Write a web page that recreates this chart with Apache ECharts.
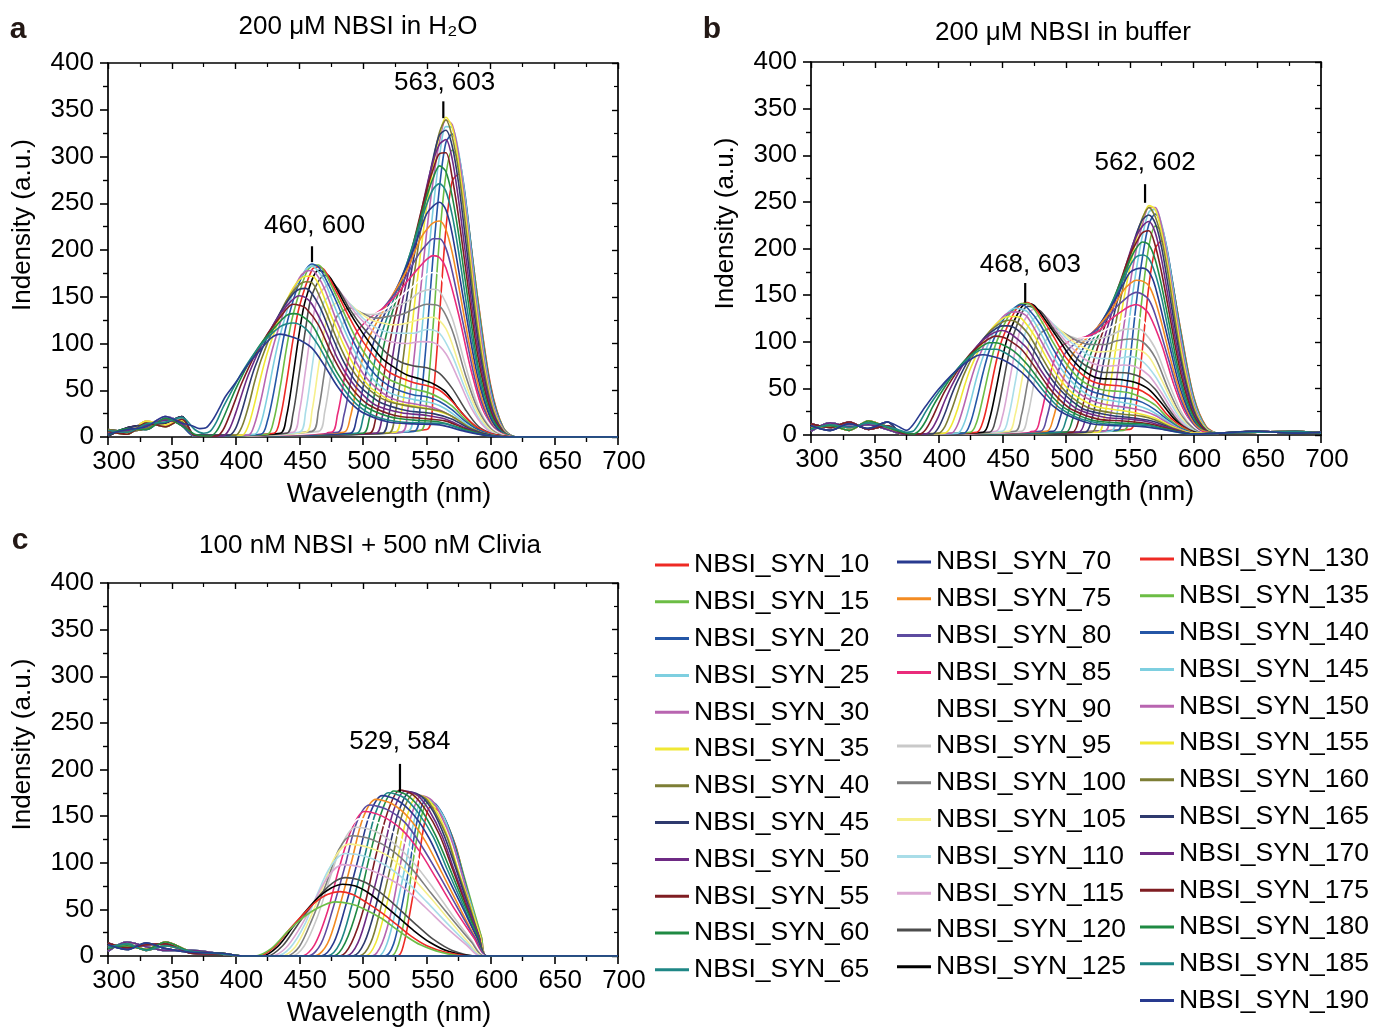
<!DOCTYPE html>
<html><head><meta charset="utf-8">
<script src="https://cdn.jsdelivr.net/npm/echarts@6/dist/echarts.min.js"></script>
<style>html,body{margin:0;padding:0;background:#fff}#c{width:1373px;height:1028px}</style>
</head><body><div id="c"></div>
<script>
const seriesNames = ['NBSI_SYN_10','NBSI_SYN_15','NBSI_SYN_20','NBSI_SYN_25','NBSI_SYN_30','NBSI_SYN_35','NBSI_SYN_40','NBSI_SYN_45','NBSI_SYN_50','NBSI_SYN_55','NBSI_SYN_60','NBSI_SYN_65','NBSI_SYN_70','NBSI_SYN_75','NBSI_SYN_80','NBSI_SYN_85','NBSI_SYN_90','NBSI_SYN_95','NBSI_SYN_100','NBSI_SYN_105','NBSI_SYN_110','NBSI_SYN_115','NBSI_SYN_120','NBSI_SYN_125','NBSI_SYN_130','NBSI_SYN_135','NBSI_SYN_140','NBSI_SYN_145','NBSI_SYN_150','NBSI_SYN_155','NBSI_SYN_160','NBSI_SYN_165','NBSI_SYN_170','NBSI_SYN_175','NBSI_SYN_180','NBSI_SYN_185','NBSI_SYN_190'];

const panelTitles = ['200 μM NBSI in H₂O', '200 μM NBSI in buffer', '100 nM NBSI + 500 nM Clivia'];
const panelLetters = ['a', 'b', 'c'];

// Panel a: 200 uM NBSI in H2O  [wavelength (nm), intensity]
const panelA = [
[[300,4],[315,7],[330,12],[345,18],[358,14],[368,1],[550,8],[555,45],[560,130],[565,222],[570,274],[575,281],[580,252],[590,148],[600,56],[610,10],[620,0],[700,0]],
[[300,6],[315,3],[330,15],[345,11],[358,19],[368,1],[545,7],[550,40],[555,119],[560,212],[565,280],[570,307],[575,296],[580,257],[590,147],[600,54],[610,10],[620,0],[700,0]],
[[300,2],[315,9],[330,8],[345,20],[358,12],[368,1],[540,6],[545,36],[550,107],[555,194],[560,267],[565,315],[570,324],[575,302],[580,260],[590,142],[600,52],[610,9],[620,0],[700,0]],
[[300,7],[315,5],[330,14],[345,16],[358,21],[368,1],[535,6],[540,32],[545,95],[550,174],[555,244],[560,300],[565,332],[570,331],[575,305],[580,257],[590,138],[600,48],[610,8],[620,0],[700,0]],
[[300,3],[315,8],[330,11],[345,22],[358,15],[368,1],[530,5],[535,28],[540,84],[545,155],[550,220],[555,274],[560,316],[565,339],[570,334],[575,302],[580,250],[590,132],[600,45],[610,8],[620,0],[700,0]],
[[300,5],[315,4],[330,17],[345,13],[358,18],[368,1],[525,5],[530,26],[535,75],[540,137],[545,195],[550,247],[555,289],[560,323],[565,342],[570,331],[575,293],[580,242],[590,123],[600,41],[610,7],[620,0],[700,0]],
[[300,8],[315,6],[330,9],[345,19],[358,16],[368,1],[520,4],[525,23],[530,68],[535,122],[540,172],[545,219],[550,260],[555,295],[560,326],[565,339],[570,321],[575,284],[580,231],[590,114],[600,38],[610,6],[620,0],[700,0]],
[[300,1],[315,10],[330,13],[345,15],[358,22],[368,1],[515,4],[520,22],[525,62],[530,110],[535,154],[545,231],[550,265],[555,298],[560,323],[565,328],[570,311],[575,271],[580,216],[590,105],[600,34],[610,6],[620,0],[700,0]],
[[300,4],[315,7],[330,12],[345,18],[358,14],[368,1],[510,4],[515,21],[520,58],[525,101],[530,139],[540,204],[550,268],[555,295],[560,313],[565,318],[570,297],[575,253],[580,200],[590,96],[600,31],[610,5],[620,0],[700,0]],
[[300,6],[315,3],[330,15],[345,11],[358,19],[368,1],[505,4],[510,20],[515,55],[520,94],[525,128],[535,182],[545,238],[550,265],[555,286],[560,303],[565,304],[570,277],[575,235],[580,185],[590,87],[600,28],[610,5],[620,0],[700,0]],
[[300,2],[315,9],[330,8],[345,20],[358,12],[368,1],[500,4],[505,20],[510,53],[515,89],[520,119],[530,165],[540,210],[550,257],[555,277],[560,290],[565,284],[570,257],[575,217],[580,169],[590,78],[600,25],[610,4],[620,0],[700,0]],
[[300,7],[315,5],[330,14],[345,16],[358,21],[368,1],[495,4],[500,20],[505,52],[510,86],[515,112],[525,151],[535,188],[545,228],[550,249],[555,265],[560,271],[565,263],[570,237],[575,198],[585,109],[595,42],[605,10],[620,0],[700,0]],
[[300,3],[315,8],[330,11],[345,22],[358,15],[368,1],[490,4],[495,20],[500,53],[505,85],[510,108],[520,141],[530,170],[540,202],[545,221],[550,239],[555,247],[560,251],[565,243],[570,217],[580,138],[590,64],[600,20],[610,3],[620,0],[700,0]],
[[300,5],[315,4],[330,17],[345,13],[358,18],[368,1],[485,5],[490,21],[495,54],[500,86],[505,107],[515,133],[525,156],[535,180],[545,212],[550,222],[555,229],[560,231],[565,222],[570,197],[575,162],[585,88],[595,33],[605,7],[620,0],[700,0]],
[[300,8],[315,6],[330,9],[345,19],[358,16],[368,1],[480,5],[485,23],[490,57],[495,88],[500,108],[510,128],[520,145],[530,163],[540,187],[545,198],[550,206],[555,212],[560,212],[565,202],[570,177],[580,112],[590,50],[600,15],[610,2],[620,0],[700,0]],
[[300,1],[315,10],[330,13],[345,15],[358,22],[368,1],[475,5],[480,24],[485,60],[490,92],[495,112],[505,127],[515,137],[525,150],[535,167],[545,183],[550,190],[555,194],[560,192],[565,181],[575,131],[585,70],[595,25],[605,6],[620,0],[700,0]],
[[300,4],[315,7],[330,12],[345,18],[358,14],[368,1],[470,5],[475,25],[480,64],[485,98],[490,116],[500,128],[510,132],[520,139],[530,151],[540,162],[550,174],[555,176],[560,173],[570,144],[580,88],[590,38],[600,12],[610,2],[620,0],[700,0]],
[[300,6],[315,3],[330,15],[345,11],[358,19],[368,1],[465,6],[470,27],[475,68],[480,103],[485,123],[495,132],[505,131],[515,132],[525,139],[535,145],[545,155],[555,158],[560,156],[570,127],[580,78],[590,34],[600,10],[610,2],[620,0],[700,0]],
[[300,2],[315,9],[330,8],[345,20],[358,12],[368,1],[460,6],[465,28],[470,71],[475,110],[480,130],[490,138],[500,132],[510,127],[520,129],[530,131],[540,137],[550,142],[560,140],[570,114],[580,68],[590,30],[600,9],[610,1],[620,0],[700,0]],
[[300,7],[315,5],[330,14],[345,16],[358,21],[368,1],[455,5],[460,28],[465,74],[470,116],[475,139],[485,146],[495,136],[505,126],[515,122],[525,120],[535,122],[545,126],[555,128],[565,116],[575,79],[585,41],[595,15],[605,3],[620,0],[700,0]],
[[300,3],[315,8],[330,11],[345,22],[358,15],[368,1],[450,5],[455,27],[460,74],[465,120],[470,146],[480,154],[490,142],[500,127],[510,117],[520,112],[530,111],[540,111],[550,115],[560,111],[570,87],[580,52],[590,22],[600,6],[610,1],[620,0],[700,0]],
[[300,5],[315,4],[330,17],[345,13],[358,18],[368,1],[445,5],[450,26],[455,72],[460,120],[465,151],[475,164],[485,150],[495,131],[505,117],[515,105],[525,101],[535,100],[545,102],[555,101],[565,89],[575,61],[585,31],[595,11],[605,2],[620,0],[700,0]],
[[300,8],[315,6],[330,9],[345,19],[358,16],[368,1],[440,4],[445,24],[450,68],[455,116],[460,152],[470,173],[480,159],[490,136],[500,117],[510,102],[520,88],[530,80],[540,76],[550,74],[560,68],[570,52],[580,30],[590,12],[600,4],[610,1],[620,0],[700,0]],
[[300,1],[315,10],[330,13],[345,15],[358,22],[368,1],[435,4],[440,22],[445,64],[450,111],[455,147],[465,178],[470,176],[475,169],[485,144],[495,121],[505,101],[515,84],[525,74],[535,66],[545,62],[555,57],[565,48],[575,30],[585,15],[595,5],[610,1],[620,0],[700,0]],
[[300,4],[315,7],[330,12],[345,18],[358,14],[368,1],[430,4],[435,20],[440,58],[445,103],[450,139],[460,179],[465,182],[470,178],[480,153],[490,126],[500,102],[510,84],[520,70],[530,63],[540,58],[550,55],[560,50],[570,38],[580,22],[590,10],[605,2],[620,0],[700,0]],
[[300,6],[315,3],[330,15],[345,11],[358,19],[368,1],[425,3],[430,18],[435,53],[440,95],[445,130],[455,174],[460,183],[465,184],[470,176],[480,148],[490,118],[500,92],[510,74],[520,62],[530,56],[540,51],[550,48],[560,42],[570,33],[580,19],[590,8],[605,1],[620,0],[700,0]],
[[300,2],[315,9],[330,8],[345,20],[358,12],[368,1],[420,3],[425,17],[430,48],[435,86],[440,120],[450,165],[460,185],[465,182],[470,171],[480,142],[490,109],[500,84],[510,66],[520,55],[530,49],[540,45],[550,43],[560,38],[570,29],[580,17],[590,8],[605,1],[620,0],[700,0]],
[[300,7],[315,5],[330,14],[345,16],[358,21],[368,2],[415,3],[420,15],[425,44],[430,79],[435,109],[445,154],[455,179],[460,183],[465,177],[470,166],[480,132],[490,101],[500,76],[510,59],[520,48],[530,43],[540,40],[555,36],[565,30],[575,20],[590,6],[605,1],[620,0],[700,0]],
[[300,3],[315,8],[330,11],[345,22],[358,15],[368,2],[410,2],[415,14],[420,40],[425,72],[430,99],[440,142],[450,170],[455,177],[460,178],[465,171],[470,158],[480,122],[490,92],[500,68],[510,53],[520,43],[530,38],[550,33],[560,29],[570,22],[585,9],[600,2],[620,0],[700,0]],
[[300,5],[315,4],[330,17],[345,13],[358,18],[368,2],[405,2],[410,12],[415,36],[420,65],[425,90],[435,129],[445,159],[455,172],[460,172],[465,164],[475,130],[485,98],[495,72],[505,54],[515,44],[525,37],[545,32],[560,27],[570,22],[585,9],[600,2],[620,0],[700,0]],
[[300,8],[315,6],[330,9],[345,19],[358,16],[368,2],[400,2],[405,11],[410,32],[415,59],[420,82],[430,117],[440,146],[450,163],[455,166],[460,165],[470,137],[480,103],[490,75],[500,57],[510,45],[520,38],[540,32],[560,28],[570,22],[585,9],[600,2],[620,0],[700,0]],
[[300,1],[315,10],[330,13],[345,15],[358,22],[368,2],[395,2],[400,9],[405,28],[410,52],[415,74],[425,107],[435,133],[445,153],[450,158],[455,159],[465,142],[475,110],[485,80],[495,58],[505,45],[515,36],[535,28],[555,25],[570,19],[585,8],[600,2],[620,0],[700,0]],
[[300,4],[315,7],[330,12],[345,18],[358,14],[368,2],[390,1],[395,8],[400,25],[405,46],[410,66],[420,97],[430,121],[440,140],[450,151],[455,149],[460,142],[470,116],[480,84],[490,61],[500,45],[510,34],[530,26],[550,23],[565,19],[580,10],[600,1],[620,0],[700,0]],
[[300,6],[315,3],[330,15],[345,11],[358,19],[368,2],[385,1],[390,7],[395,22],[400,40],[405,58],[415,87],[425,110],[435,128],[445,142],[450,141],[455,138],[465,120],[475,90],[485,65],[495,46],[505,34],[525,23],[545,20],[565,17],[580,9],[600,1],[620,0],[700,0]],
[[300,2],[315,9],[330,8],[345,20],[358,12],[368,3],[380,1],[385,6],[390,19],[395,35],[400,51],[410,78],[420,100],[430,116],[440,130],[445,132],[450,131],[460,120],[470,94],[480,68],[490,48],[500,34],[520,22],[540,18],[560,16],[580,8],[600,1],[620,0],[700,0]],
[[300,7],[315,5],[330,14],[345,16],[358,21],[368,8],[375,4],[380,6],[385,16],[390,31],[395,44],[405,69],[415,90],[425,106],[435,118],[440,121],[445,122],[455,116],[465,98],[475,73],[485,51],[495,35],[510,22],[530,16],[550,15],[565,14],[580,7],[600,1],[620,0],[700,0]],
[[300,3],[315,8],[330,11],[345,22],[358,15],[366,12],[372,9],[377,10],[382,18],[387,30],[392,43],[400,58],[410,78],[420,94],[428,106],[435,110],[442,108],[450,104],[460,95],[470,76],[480,54],[490,37],[500,26],[520,16],[540,14],[560,13],[580,6],[600,1],[620,0],[700,0]]
];

// Panel b: 200 uM NBSI in buffer
const panelB = [
[[300,6],[315,11],[330,8],[345,13],[360,9],[372,1],[550,6],[555,32],[560,93],[565,160],[570,200],[575,208],[580,188],[590,112],[600,42],[610,9],[620,2],[650,4],[680,2],[700,3]],
[[300,10],[315,5],[330,12],[345,7],[360,14],[372,1],[545,5],[550,29],[555,86],[560,151],[565,202],[570,224],[575,219],[580,192],[590,111],[600,41],[610,8],[620,2],[650,3],[680,4],[700,2]],
[[300,4],[315,13],[330,9],[345,11],[360,6],[372,1],[540,5],[545,26],[550,78],[555,140],[560,191],[565,226],[570,237],[575,224],[580,194],[590,108],[600,39],[610,7],[620,2],[650,4],[680,2],[700,3]],
[[300,12],[315,8],[330,14],[345,6],[360,10],[372,1],[535,4],[540,23],[545,70],[550,127],[555,176],[560,214],[565,239],[570,242],[575,226],[580,192],[590,104],[600,37],[610,7],[620,2],[650,3],[680,4],[700,2]],
[[300,7],[315,10],[330,5],[345,15],[360,8],[372,1],[530,4],[535,21],[540,62],[545,113],[550,160],[555,198],[560,226],[565,244],[570,244],[575,224],[580,186],[590,100],[600,34],[610,6],[620,2],[650,4],[680,2],[700,3]],
[[300,6],[315,11],[330,8],[345,13],[360,9],[372,1],[525,3],[530,19],[535,56],[540,101],[545,143],[550,179],[555,209],[560,231],[565,246],[570,242],[575,217],[580,180],[590,93],[600,31],[610,6],[620,2],[650,3],[680,4],[700,2]],
[[300,10],[315,5],[330,12],[345,7],[360,14],[372,1],[520,3],[525,17],[530,50],[535,90],[540,127],[545,160],[550,189],[555,213],[560,233],[565,244],[570,234],[575,210],[580,173],[590,86],[600,29],[610,5],[620,2],[650,4],[680,2],[700,3]],
[[300,4],[315,13],[330,9],[345,11],[360,6],[372,1],[515,3],[520,16],[525,46],[530,82],[535,114],[545,169],[550,193],[555,215],[560,231],[565,236],[570,227],[575,201],[580,161],[590,80],[600,26],[610,5],[620,2],[650,3],[680,4],[700,2]],
[[300,12],[315,8],[330,14],[345,6],[360,10],[372,1],[510,3],[515,16],[520,44],[525,75],[530,103],[540,150],[550,195],[555,213],[560,224],[565,229],[570,217],[575,188],[580,149],[590,73],[600,23],[610,4],[620,2],[650,4],[680,2],[700,3]],
[[300,7],[315,10],[330,5],[345,15],[360,8],[372,1],[505,3],[510,16],[515,42],[520,71],[525,95],[535,135],[545,174],[550,193],[555,206],[560,217],[565,219],[570,203],[575,174],[580,138],[590,66],[600,21],[610,4],[620,2],[650,3],[680,4],[700,2]],
[[300,6],[315,11],[330,8],[345,13],[360,9],[372,1],[500,3],[505,16],[510,42],[515,68],[520,89],[530,122],[540,155],[550,187],[555,200],[560,207],[565,204],[570,188],[575,160],[580,126],[590,59],[600,19],[610,3],[620,2],[650,4],[680,2],[700,3]],
[[300,10],[315,5],[330,12],[345,7],[360,14],[372,1],[495,3],[500,16],[505,42],[510,68],[515,86],[525,113],[535,139],[545,167],[550,181],[555,191],[560,193],[565,189],[570,173],[575,147],[585,82],[595,32],[605,7],[620,2],[650,3],[680,4],[700,2]],
[[300,4],[315,13],[330,9],[345,11],[360,6],[372,1],[490,4],[495,17],[500,43],[505,68],[510,85],[520,106],[530,126],[540,149],[545,162],[550,174],[555,178],[560,179],[565,175],[570,159],[580,103],[590,48],[600,15],[610,2],[620,2],[650,4],[680,2],[700,3]],
[[300,12],[315,8],[330,14],[345,6],[360,10],[372,1],[485,4],[490,18],[495,45],[500,70],[505,86],[515,102],[525,116],[535,133],[545,155],[550,162],[555,166],[560,165],[565,160],[570,144],[575,120],[585,66],[595,25],[605,6],[620,2],[650,3],[680,4],[700,2]],
[[300,7],[315,10],[330,5],[345,15],[360,8],[372,1],[480,4],[485,19],[490,48],[495,73],[500,89],[510,101],[520,109],[530,121],[540,138],[545,144],[550,150],[555,153],[560,151],[565,145],[570,129],[580,83],[590,38],[600,11],[610,2],[620,2],[650,4],[680,2],[700,3]],
[[300,6],[315,11],[330,8],[345,13],[360,9],[372,1],[475,4],[480,20],[485,50],[490,77],[495,93],[505,102],[515,105],[525,111],[535,124],[545,134],[550,138],[555,140],[560,137],[565,130],[575,97],[585,52],[595,19],[605,4],[620,2],[650,3],[680,4],[700,2]],
[[300,10],[315,5],[330,12],[345,7],[360,14],[372,1],[470,4],[475,21],[480,53],[485,82],[490,98],[500,105],[510,104],[520,105],[530,112],[540,119],[550,127],[555,127],[560,123],[570,105],[580,66],[590,29],[600,9],[610,1],[620,2],[650,4],[680,2],[700,3]],
[[300,4],[315,13],[330,9],[345,11],[360,6],[372,1],[465,4],[470,21],[475,56],[480,86],[485,103],[495,110],[505,105],[515,101],[525,103],[535,107],[545,113],[555,114],[560,112],[570,93],[580,58],[590,26],[600,7],[610,1],[620,2],[650,3],[680,4],[700,2]],
[[300,12],[315,8],[330,14],[345,6],[360,10],[372,1],[460,4],[465,21],[470,57],[475,90],[480,109],[490,115],[500,108],[510,100],[520,97],[530,97],[540,101],[550,103],[560,100],[570,83],[580,50],[590,22],[600,7],[610,1],[620,2],[650,4],[680,2],[700,3]],
[[300,7],[315,10],[330,5],[345,15],[360,8],[372,1],[455,4],[460,21],[465,56],[470,92],[475,114],[485,122],[495,113],[505,101],[515,93],[525,89],[535,90],[545,92],[555,92],[565,84],[575,59],[585,31],[595,11],[605,2],[620,2],[650,3],[680,4],[700,2]],
[[300,6],[315,11],[330,8],[345,13],[360,9],[372,1],[450,4],[455,20],[460,55],[465,92],[470,116],[480,129],[490,119],[500,104],[510,93],[520,84],[530,82],[540,82],[550,84],[560,79],[570,63],[580,39],[590,17],[600,5],[610,1],[620,2],[650,4],[680,2],[700,3]],
[[300,10],[315,5],[330,12],[345,7],[360,14],[372,1],[445,4],[450,19],[455,53],[460,89],[465,116],[475,135],[485,126],[495,108],[505,93],[515,81],[525,75],[535,74],[545,75],[555,73],[565,64],[575,45],[585,23],[595,8],[605,2],[620,2],[650,3],[680,4],[700,2]],
[[300,4],[315,13],[330,9],[345,11],[360,6],[372,1],[440,3],[445,18],[450,50],[455,86],[460,112],[470,138],[480,133],[490,114],[500,96],[510,80],[520,71],[530,67],[540,67],[550,66],[560,61],[570,49],[580,29],[590,12],[600,4],[610,1],[620,2],[650,4],[680,2],[700,3]],
[[300,12],[315,8],[330,14],[345,6],[360,10],[372,1],[435,3],[440,17],[445,48],[450,82],[455,108],[465,137],[470,141],[475,139],[485,121],[495,101],[505,81],[515,68],[525,61],[535,60],[545,59],[555,56],[565,49],[575,34],[585,17],[595,6],[610,1],[620,2],[650,3],[680,4],[700,2]],
[[300,7],[315,10],[330,5],[345,15],[360,8],[372,1],[430,3],[435,15],[440,44],[445,77],[450,103],[460,133],[465,140],[470,142],[480,128],[490,106],[500,83],[510,68],[520,58],[530,54],[540,53],[550,51],[560,47],[570,37],[580,21],[590,10],[605,1],[620,2],[650,4],[680,2],[700,3]],
[[300,6],[315,11],[330,8],[345,13],[360,9],[372,1],[425,3],[430,14],[435,41],[440,72],[445,98],[455,128],[460,136],[465,141],[470,141],[480,124],[490,99],[500,77],[510,61],[520,52],[530,48],[540,47],[550,45],[560,40],[570,32],[580,18],[590,8],[605,1],[620,2],[650,3],[680,4],[700,2]],
[[300,10],[315,5],[330,12],[345,7],[360,14],[372,1],[420,2],[425,13],[430,38],[435,67],[440,91],[450,122],[460,137],[465,140],[470,136],[480,118],[490,92],[500,70],[510,55],[520,47],[530,43],[540,40],[550,39],[560,35],[570,27],[580,16],[590,7],[605,1],[620,2],[650,4],[680,2],[700,3]],
[[300,4],[315,13],[330,9],[345,11],[360,6],[372,1],[415,2],[420,12],[425,35],[430,62],[435,84],[445,115],[455,132],[460,136],[465,135],[470,132],[480,110],[490,84],[500,64],[510,50],[520,41],[530,38],[540,36],[555,32],[565,27],[575,19],[590,6],[605,1],[620,2],[650,3],[680,4],[700,2]],
[[300,12],[315,8],[330,14],[345,6],[360,10],[372,1],[410,2],[415,11],[420,32],[425,57],[430,78],[440,108],[450,126],[455,131],[460,132],[465,131],[470,126],[480,102],[490,77],[500,57],[510,45],[520,37],[530,33],[550,29],[560,26],[570,21],[585,9],[600,2],[620,2],[650,4],[680,2],[700,3]],
[[300,7],[315,10],[330,5],[345,15],[360,8],[372,1],[405,2],[410,10],[415,28],[420,51],[425,71],[435,100],[445,119],[455,127],[460,127],[465,125],[475,107],[485,82],[495,60],[505,45],[515,36],[525,30],[545,26],[560,22],[570,18],[585,8],[600,2],[620,2],[650,3],[680,4],[700,2]],
[[300,6],[315,11],[330,8],[345,13],[360,9],[372,1],[400,2],[405,9],[410,26],[415,46],[420,65],[430,92],[440,111],[450,121],[455,123],[460,122],[470,109],[480,86],[490,63],[500,46],[510,35],[520,28],[540,23],[560,20],[570,16],[585,7],[600,1],[620,2],[650,4],[680,2],[700,3]],
[[300,10],[315,5],[330,12],[345,7],[360,14],[372,1],[395,1],[400,8],[405,23],[410,42],[415,58],[425,84],[435,103],[445,114],[450,117],[455,117],[465,109],[475,90],[485,67],[495,49],[505,36],[515,27],[535,21],[555,18],[570,14],[585,6],[600,1],[620,2],[650,3],[680,4],[700,2]],
[[300,4],[315,13],[330,9],[345,11],[360,6],[372,1],[390,1],[395,7],[400,20],[405,37],[410,52],[420,77],[430,95],[440,107],[450,112],[455,110],[460,105],[470,92],[480,70],[490,51],[500,37],[510,27],[530,19],[550,17],[565,14],[580,8],[600,1],[620,2],[650,4],[680,2],[700,3]],
[[300,12],[315,8],[330,14],[345,6],[360,10],[372,2],[385,1],[390,6],[395,18],[400,33],[405,47],[415,69],[425,87],[435,99],[445,106],[450,105],[455,102],[465,92],[475,74],[485,54],[495,38],[505,27],[525,17],[545,15],[565,12],[580,7],[600,1],[620,2],[650,3],[680,4],[700,2]],
[[300,7],[315,10],[330,5],[345,15],[360,8],[372,3],[380,1],[385,5],[390,15],[395,29],[400,41],[410,62],[420,79],[430,91],[440,99],[445,99],[450,97],[460,89],[470,75],[480,57],[490,40],[500,28],[520,16],[540,13],[560,12],[580,6],[600,1],[620,2],[650,4],[680,2],[700,3]],
[[300,6],[315,11],[330,8],[345,13],[360,9],[368,6],[375,3],[380,4],[385,13],[390,25],[395,36],[405,55],[415,71],[425,84],[435,92],[440,92],[445,92],[455,86],[465,75],[475,60],[485,43],[495,29],[510,18],[530,12],[550,11],[565,10],[580,5],[600,1],[620,2],[650,3],[680,4],[700,2]],
[[300,10],[315,5],[330,12],[345,7],[360,14],[370,8],[375,5],[380,11],[385,21],[390,31],[400,49],[410,64],[420,76],[430,85],[435,86],[440,85],[450,81],[460,73],[470,61],[480,45],[490,31],[500,22],[520,12],[540,10],[560,9],[580,5],[600,1],[620,2],[650,4],[680,2],[700,3]]
];

// Panel c: 100 nM NBSI + 500 nM Clivia
const panelC = [
[[300,9],[315,13],[330,6],[345,11],[365,5],[390,2],[405,0],[527,0],[532,13],[537,48],[543,96],[548,141],[553,160],[560,155],[566,141],[573,117],[579,85],[586,51],[593,19],[597,0],[700,0]],
[[300,12],[315,7],[330,14],[345,8],[365,4],[390,3],[405,0],[522,0],[528,13],[534,50],[539,99],[545,145],[551,165],[558,160],[565,145],[572,120],[579,87],[586,53],[593,20],[597,0],[700,0]],
[[300,5],[315,15],[330,10],[345,6],[365,6],[390,2],[405,0],[517,0],[524,13],[530,50],[537,101],[543,148],[550,168],[557,163],[564,148],[571,123],[578,89],[585,54],[592,20],[597,0],[700,0]],
[[300,14],[315,9],[330,12],[345,13],[365,3],[390,2],[405,0],[512,0],[519,14],[526,51],[534,102],[541,150],[548,170],[555,165],[563,150],[570,124],[577,90],[585,54],[592,20],[597,0],[700,0]],
[[300,8],[315,11],[330,7],[345,15],[365,5],[390,3],[405,0],[507,0],[515,14],[523,52],[530,103],[538,151],[546,172],[554,167],[561,151],[569,126],[577,91],[584,55],[592,21],[597,0],[700,0]],
[[300,9],[315,13],[330,6],[345,11],[365,5],[390,2],[405,0],[502,0],[510,14],[518,52],[527,103],[535,152],[543,173],[551,168],[559,152],[567,126],[575,91],[584,55],[592,21],[597,0],[700,0]],
[[300,12],[315,7],[330,14],[345,8],[365,4],[390,3],[405,0],[497,0],[506,14],[514,52],[523,104],[531,153],[540,174],[549,169],[557,153],[566,127],[574,92],[583,56],[591,21],[597,0],[700,0]],
[[300,5],[315,15],[330,10],[345,6],[365,6],[390,2],[405,0],[492,0],[501,14],[510,53],[519,106],[528,155],[537,176],[546,171],[555,155],[564,128],[573,93],[582,56],[591,21],[597,0],[700,0]],
[[300,14],[315,9],[330,12],[345,13],[365,3],[390,2],[405,0],[487,0],[496,14],[505,53],[515,106],[524,156],[533,177],[543,172],[552,156],[562,129],[571,94],[581,57],[591,21],[597,0],[700,0]],
[[300,8],[315,11],[330,7],[345,15],[365,5],[390,3],[405,0],[482,0],[491,14],[501,53],[510,107],[520,157],[529,178],[539,173],[549,157],[560,130],[570,94],[580,57],[590,21],[597,0],[700,0]],
[[300,9],[315,13],[330,6],[345,11],[365,5],[390,2],[405,0],[477,0],[486,14],[496,53],[505,106],[515,156],[524,177],[535,172],[546,156],[557,129],[568,94],[579,57],[590,21],[597,0],[700,0]],
[[300,12],[315,7],[330,14],[345,8],[365,4],[390,3],[405,0],[472,0],[482,14],[491,53],[501,105],[510,154],[520,175],[532,170],[543,154],[555,128],[566,93],[578,56],[589,21],[597,0],[700,0]],
[[300,5],[315,15],[330,10],[345,6],[365,6],[390,2],[405,0],[467,0],[477,14],[486,52],[496,103],[505,151],[515,172],[527,167],[540,151],[552,126],[564,91],[577,55],[589,21],[597,0],[700,0]],
[[300,14],[315,9],[330,12],[345,13],[365,3],[390,2],[405,0],[462,0],[472,13],[481,50],[491,101],[500,148],[510,168],[523,163],[536,148],[549,123],[562,89],[575,54],[588,20],[597,0],[700,0]],
[[300,8],[315,11],[330,7],[345,15],[365,5],[390,3],[405,0],[457,0],[467,13],[476,49],[486,97],[495,143],[505,162],[519,157],[533,143],[546,118],[560,86],[574,52],[588,19],[597,0],[700,0]],
[[300,9],[315,13],[330,6],[345,11],[365,5],[390,2],[405,0],[452,0],[462,12],[472,47],[481,93],[491,136],[501,155],[515,150],[530,136],[544,113],[558,82],[572,50],[587,19],[596,0],[700,0]],
[[300,12],[315,7],[330,14],[345,8],[365,4],[390,3],[405,0],[448,0],[458,12],[468,44],[477,88],[487,129],[497,147],[512,143],[527,129],[542,107],[556,78],[571,47],[586,18],[596,0],[700,0]],
[[300,5],[315,15],[330,10],[345,6],[365,6],[390,2],[405,0],[444,0],[454,11],[464,41],[474,83],[484,121],[494,138],[509,134],[524,121],[539,101],[555,73],[570,44],[585,17],[595,0],[700,0]],
[[300,14],[315,9],[330,12],[345,13],[365,3],[390,2],[405,0],[440,0],[450,10],[460,39],[471,77],[481,114],[491,129],[507,125],[522,114],[538,94],[553,68],[569,41],[585,15],[595,0],[700,0]],
[[300,8],[315,11],[330,7],[345,15],[365,5],[390,3],[405,0],[436,0],[447,10],[457,36],[468,72],[478,106],[489,120],[505,116],[521,106],[536,88],[552,64],[568,38],[583,14],[594,0],[700,0]],
[[300,9],[315,13],[330,6],[345,11],[365,5],[390,2],[405,0],[432,0],[443,9],[454,33],[464,66],[475,97],[486,110],[502,107],[518,97],[534,80],[550,58],[566,35],[582,13],[593,0],[700,0]],
[[300,12],[315,7],[330,14],[345,8],[365,4],[390,3],[405,0],[428,0],[439,8],[450,29],[462,59],[473,86],[484,98],[500,95],[516,86],[533,72],[549,52],[565,31],[581,12],[592,0],[700,0]],
[[300,5],[315,15],[330,10],[345,6],[365,6],[390,2],[405,0],[425,0],[437,11],[448,32],[458,51],[468,68],[478,80],[486,84],[496,82],[507,75],[519,62],[531,47],[543,32],[555,18],[570,6],[590,0],[700,0]],
[[300,14],[315,9],[330,12],[345,13],[365,3],[390,2],[405,0],[421,0],[433,10],[445,31],[455,48],[465,63],[475,73],[484,77],[494,75],[505,67],[517,54],[529,40],[540,27],[552,15],[567,5],[588,0],[700,0]],
[[300,8],[315,11],[330,7],[345,15],[365,5],[390,3],[405,0],[418,0],[430,9],[442,28],[452,43],[462,57],[472,66],[482,69],[492,66],[502,58],[515,46],[527,33],[538,21],[550,11],[565,4],[585,0],[700,0]],
[[300,9],[315,13],[330,6],[345,11],[365,5],[390,2],[405,0],[415,0],[428,8],[440,25],[450,38],[460,48],[470,55],[478,58],[490,56],[500,51],[515,40],[525,30],[534,21],[545,12],[561,4],[580,0],[700,0]],
[[300,12],[315,7],[330,14],[345,8],[365,4],[390,3],[405,0],[700,0]],
[[300,5],[315,15],[330,10],[345,6],[365,6],[390,2],[405,0],[700,0]],
[[300,14],[315,9],[330,12],[345,13],[365,3],[390,2],[405,0],[700,0]],
[[300,8],[315,11],[330,7],[345,15],[365,5],[390,3],[405,0],[700,0]],
[[300,9],[315,13],[330,6],[345,11],[365,5],[390,2],[405,0],[700,0]],
[[300,12],[315,7],[330,14],[345,8],[365,4],[390,3],[405,0],[700,0]],
[[300,5],[315,15],[330,10],[345,6],[365,6],[390,2],[405,0],[700,0]],
[[300,14],[315,9],[330,12],[345,13],[365,3],[390,2],[405,0],[700,0]],
[[300,8],[315,11],[330,7],[345,15],[365,5],[390,3],[405,0],[700,0]],
[[300,9],[315,13],[330,6],[345,11],[365,5],[390,2],[405,0],[700,0]],
[[300,12],[315,7],[330,14],[345,8],[365,4],[390,3],[405,0],[700,0]]
];

// Peak annotations: label, x (nm), tick from yLow to yHigh, label position
const annA = [
  {label:'460, 600', x:460, yLow:187, yHigh:204, tx:462, ty:226},
  {label:'563, 603', x:563, yLow:341, yHigh:359, tx:564, ty:379}
];
const annB = [
  {label:'468, 603', x:468, yLow:142, yHigh:163, tx:472, ty:183},
  {label:'562, 602', x:562, yLow:249, yHigh:269, tx:562, ty:292}
];
const annC = [
  {label:'529, 584', x:529, yLow:176, yHigh:206, tx:529, ty:230}
];

const palette = ['#ee2a24','#6cbd45','#2456a6','#7ecfe0','#b865b0','#f0e834','#7d7e35','#2e3a6e','#6e2a84','#7f1d22','#1f8a43','#1f8786','#283a8f','#f38b22','#5d4ba0','#ea2b7b','#ffffff','#c9c9c9','#7f7f7f','#f6f08d','#a9dde8','#dba7d3','#4d4d4d','#000000'];

const FONT = '"Liberation Sans", Arial, Helvetica, sans-serif';
const grids = [
  {left:108, top:63, width:510, height:374},
  {left:811, top:62, width:510, height:373},
  {left:108, top:583, width:510, height:374}
];

function xAxes(g){
  return [{
    type:'value', gridIndex:g, min:300, max:700, interval:50, position:'bottom',
    name:'Wavelength (nm)', nameLocation:'middle', nameGap:44,
    nameTextStyle:{fontSize:27, color:'#000', fontFamily:FONT, padding:[0,0,0,52]},
    axisLine:{show:true, onZero:false, lineStyle:{color:'#000', width:1.7}},
    axisTick:{show:true, inside:false, length:8, lineStyle:{color:'#000', width:1.6}},
    minorTick:{show:true, splitNumber:2, length:5, lineStyle:{color:'#000', width:1.4}},
    axisLabel:{fontSize:26, color:'#000', margin:12, fontFamily:FONT, padding:[0,0,0,12]},
    splitLine:{show:false}
  },{
    type:'value', gridIndex:g, min:300, max:700, interval:50, position:'top',
    axisLine:{show:true, onZero:false, lineStyle:{color:'#000', width:1.7}},
    axisTick:{show:true, inside:true, length:6, lineStyle:{color:'#000', width:1.4}},
    minorTick:{show:true, splitNumber:2, length:4, lineStyle:{color:'#000', width:1.2}},
    axisLabel:{show:false}, splitLine:{show:false}
  }];
}
function yAxes(g){
  return [{
    type:'value', gridIndex:g, min:0, max:400, interval:50, position:'left',
    name:'Indensity (a.u.)', nameLocation:'middle', nameGap:72,
    nameTextStyle:{fontSize:26, color:'#000', fontFamily:FONT, padding:[0,0,0,50]},
    axisLine:{show:true, onZero:false, lineStyle:{color:'#000', width:1.7}},
    axisTick:{show:true, inside:false, length:8, lineStyle:{color:'#000', width:1.6}},
    minorTick:{show:true, splitNumber:2, length:5, lineStyle:{color:'#000', width:1.4}},
    axisLabel:{fontSize:26, color:'#000', margin:14, fontFamily:FONT, verticalAlign:'middle', padding:[0,0,8,0]},
    splitLine:{show:false}
  },{
    type:'value', gridIndex:g, min:0, max:400, interval:50, position:'right',
    axisLine:{show:true, onZero:false, lineStyle:{color:'#000', width:1.7}},
    axisTick:{show:true, inside:true, length:6, lineStyle:{color:'#000', width:1.4}},
    minorTick:{show:true, splitNumber:2, length:4, lineStyle:{color:'#000', width:1.2}},
    axisLabel:{show:false}, splitLine:{show:false}
  }];
}

function panelSeries(data, g){
  return data.map((d, i) => ({
    name: seriesNames[i], type:'line', xAxisIndex:g*2, yAxisIndex:g*2,
    data: d, symbol:'none', smooth:0.3, silent:true,
    lineStyle:{width:1.6, color:palette[i % palette.length]},
    itemStyle:{color:palette[i % palette.length]}
  }));
}
function annSeries(ann, g){
  const out = [];
  ann.forEach(a => {
    out.push({type:'line', xAxisIndex:g*2, yAxisIndex:g*2, data:[[a.x,a.yLow],[a.x,a.yHigh]],
      symbol:'none', silent:true, z:5, lineStyle:{color:'#000', width:2.2}});
    out.push({type:'scatter', xAxisIndex:g*2, yAxisIndex:g*2, data:[[a.tx,a.ty]],
      symbolSize:1, silent:true, z:5, itemStyle:{color:'rgba(255,255,255,0)', opacity:1},
      label:{show:true, position:'inside', formatter:a.label, fontSize:26, color:'#000',
        opacity:1, textBorderWidth:0, fontFamily:FONT}});
  });
  return out;
}

const legendBase = {orient:'vertical', icon:'rect', itemWidth:34, itemHeight:3, itemGap:6.8,
  selectedMode:false, textStyle:{fontSize:26.5, color:'#000', fontFamily:FONT, lineHeight:30}};

const titlePos = [[358,27],[1063,33],[370,546]];
const letterPos = [[18,30],[712,30],[20,541]];
const graphics = [];
panelTitles.forEach((t, i) => graphics.push({type:'text', x:titlePos[i][0], y:titlePos[i][1],
  style:{text:t, font:'26px ' + FONT, fill:'#000', align:'center', verticalAlign:'middle', textAlign:'center', textVerticalAlign:'middle'}}));
panelLetters.forEach((t, i) => graphics.push({type:'text', x:letterPos[i][0], y:letterPos[i][1],
  style:{text:t, font:'bold 30px ' + FONT, fill:'#231815', align:'center', verticalAlign:'middle', textAlign:'center', textVerticalAlign:'middle'}}));

const option = {
  animation:false,
  backgroundColor:'#fff',
  grid:grids,
  xAxis:[...xAxes(0), ...xAxes(1), ...xAxes(2)],
  yAxis:[...yAxes(0), ...yAxes(1), ...yAxes(2)],
  legend:[
    Object.assign({}, legendBase, {left:650, top:545, data:seriesNames.slice(0,12)}),
    Object.assign({}, legendBase, {left:892, top:542, data:seriesNames.slice(12,24)}),
    Object.assign({}, legendBase, {left:1135, top:539, data:seriesNames.slice(24)})
  ],
  graphic:graphics,
  series:[...panelSeries(panelA,0), ...panelSeries(panelB,1), ...panelSeries(panelC,2),
          ...annSeries(annA,0), ...annSeries(annB,1), ...annSeries(annC,2)]
};
const chart = echarts.init(document.getElementById('c'), null, {renderer:'canvas'});
chart.setOption(option);
</script></body></html>
